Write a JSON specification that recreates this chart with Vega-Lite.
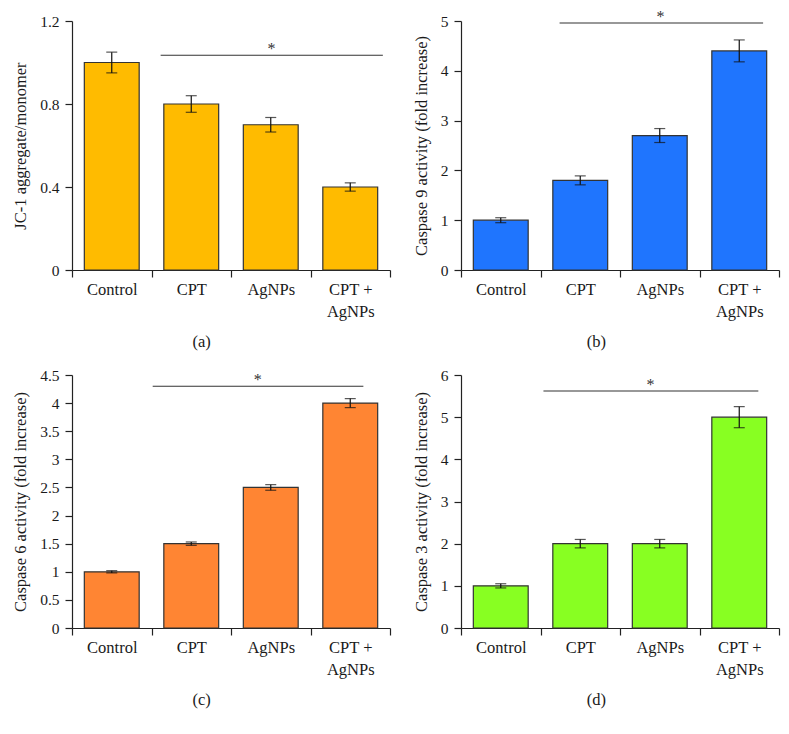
{
  "$schema": "https://vega.github.io/schema/vega-lite/v6.json",
  "padding": {"left": 12, "top": 8, "right": 5, "bottom": 5},
  "background": "white",
  "columns": 2,
  "spacing": {"row": 18, "column": 22},
  "config": {
    "font": "Liberation Serif",
    "view": {"stroke": null},
    "axis": {
      "labelFont": "Liberation Serif",
      "titleFont": "Liberation Serif",
      "labelFontSize": 16.5,
      "titleFontSize": 16.5,
      "titleFontWeight": "normal",
      "labelColor": "#1a1a1a",
      "titleColor": "#1a1a1a",
      "domainColor": "#222222",
      "tickColor": "#222222",
      "domainWidth": 1.2,
      "tickWidth": 1.2,
      "grid": false,
      "tickSize": 7,
      "labelPadding": 3
    },
    "axisY": {"labelFontSize": 15.5, "labelPadding": 6, "titlePadding": 11},
    "axisX": {"tickBand": "extent", "labelAngle": 0, "labelLineHeight": 22, "labelPadding": 4},
    "title": {"font": "Liberation Serif", "fontSize": 16.5, "fontWeight": "normal", "color": "#1a1a1a", "orient": "bottom", "frame": "bounds", "anchor": "middle", "offset": 14}
  },
  "datasets": {
    "a": [
      {"group": "Control", "mean": 1.0, "err": 0.05},
      {"group": "CPT", "mean": 0.8, "err": 0.04},
      {"group": "AgNPs", "mean": 0.7, "err": 0.035},
      {"group": "CPT + AgNPs", "mean": 0.4, "err": 0.02}
    ],
    "b": [
      {"group": "Control", "mean": 1.0, "err": 0.05},
      {"group": "CPT", "mean": 1.8, "err": 0.09},
      {"group": "AgNPs", "mean": 2.7, "err": 0.14},
      {"group": "CPT + AgNPs", "mean": 4.4, "err": 0.22}
    ],
    "c": [
      {"group": "Control", "mean": 1.0, "err": 0.02},
      {"group": "CPT", "mean": 1.5, "err": 0.03},
      {"group": "AgNPs", "mean": 2.5, "err": 0.05},
      {"group": "CPT + AgNPs", "mean": 4.0, "err": 0.08}
    ],
    "d": [
      {"group": "Control", "mean": 1.0, "err": 0.05},
      {"group": "CPT", "mean": 2.0, "err": 0.1},
      {"group": "AgNPs", "mean": 2.0, "err": 0.1},
      {"group": "CPT + AgNPs", "mean": 5.0, "err": 0.25}
    ],
    "sa": [{"from": "CPT", "to": "CPT + AgNPs", "mid": "AgNPs", "y": 1.035, "label": "*"}],
    "sb": [{"from": "CPT", "to": "CPT + AgNPs", "mid": "AgNPs", "y": 4.96, "label": "*"}],
    "sc": [{"from": "CPT", "to": "CPT + AgNPs", "mid": "AgNPs", "y": 4.3, "label": "*"}],
    "sd": [{"from": "CPT", "to": "CPT + AgNPs", "mid": "AgNPs", "y": 5.62, "label": "*"}]
  },
  "concat": [
    {
      "title": "(a)",
      "width": 318, "height": 249,
      "layer": [
        {
          "data": {"name": "a"},
          "mark": {"type": "bar", "width": {"band": 0.69}, "color": "#FFBB00", "stroke": "#333333", "strokeWidth": 1.2},
          "encoding": {
            "x": {"field": "group", "type": "nominal", "sort": null, "scale": {"domain": ["Control", "CPT", "AgNPs", "CPT + AgNPs"], "paddingInner": 0, "paddingOuter": 0}, "axis": {"title": null, "labelExpr": "datum.value == 'CPT + AgNPs' ? ['CPT +', 'AgNPs'] : datum.value"}},
            "y": {"field": "mean", "type": "quantitative", "title": "JC-1 aggregate/monomer", "scale": {"domain": [0, 1.2]}, "axis": {"values": [0, 0.4, 0.8, 1.2], "format": "~g"}}
          }
        },
        {
          "data": {"name": "a"},
          "mark": {"type": "errorbar", "ticks": true, "size": 11, "thickness": 1.2, "color": "#111111"},
          "encoding": {
            "x": {"field": "group", "type": "nominal", "sort": null},
            "y": {"field": "mean", "type": "quantitative", "title": "JC-1 aggregate/monomer", "axis": {"values": [0, 0.4, 0.8, 1.2], "format": "~g"}},
            "yError": {"field": "err"}
          }
        },
        {
          "data": {"name": "sa"},
          "mark": {"type": "rule", "color": "#333333", "strokeWidth": 1.2},
          "encoding": {
            "x": {"field": "from", "type": "nominal", "sort": null, "bandPosition": 0.115},
            "x2": {"field": "to", "bandPosition": 0.91},
            "y": {"field": "y", "type": "quantitative", "title": "JC-1 aggregate/monomer", "axis": {"values": [0, 0.4, 0.8, 1.2], "format": "~g"}}
          }
        },
        {
          "data": {"name": "sa"},
          "mark": {"type": "text", "baseline": "alphabetic", "dy": -1, "fontSize": 16, "color": "#333333", "font": "Liberation Serif"},
          "encoding": {
            "x": {"field": "mid", "type": "nominal", "sort": null, "bandPosition": 0.51},
            "y": {"field": "y", "type": "quantitative", "title": "JC-1 aggregate/monomer", "axis": {"values": [0, 0.4, 0.8, 1.2], "format": "~g"}},
            "text": {"field": "label"}
          }
        }
      ]
    },
    {
      "title": "(b)",
      "width": 318, "height": 249,
      "layer": [
        {
          "data": {"name": "b"},
          "mark": {"type": "bar", "width": {"band": 0.69}, "color": "#1F75FE", "stroke": "#333333", "strokeWidth": 1.2},
          "encoding": {
            "x": {"field": "group", "type": "nominal", "sort": null, "scale": {"domain": ["Control", "CPT", "AgNPs", "CPT + AgNPs"], "paddingInner": 0, "paddingOuter": 0}, "axis": {"title": null, "labelExpr": "datum.value == 'CPT + AgNPs' ? ['CPT +', 'AgNPs'] : datum.value"}},
            "y": {"field": "mean", "type": "quantitative", "title": "Caspase 9 activity (fold increase)", "scale": {"domain": [0, 5]}, "axis": {"values": [0, 1, 2, 3, 4, 5], "format": "~g"}}
          }
        },
        {
          "data": {"name": "b"},
          "mark": {"type": "errorbar", "ticks": true, "size": 11, "thickness": 1.2, "color": "#111111"},
          "encoding": {
            "x": {"field": "group", "type": "nominal", "sort": null},
            "y": {"field": "mean", "type": "quantitative", "title": "Caspase 9 activity (fold increase)", "axis": {"values": [0, 1, 2, 3, 4, 5], "format": "~g"}},
            "yError": {"field": "err"}
          }
        },
        {
          "data": {"name": "sb"},
          "mark": {"type": "rule", "color": "#333333", "strokeWidth": 1.2},
          "encoding": {
            "x": {"field": "from", "type": "nominal", "sort": null, "bandPosition": 0.24},
            "x2": {"field": "to", "bandPosition": 0.8},
            "y": {"field": "y", "type": "quantitative", "title": "Caspase 9 activity (fold increase)", "axis": {"values": [0, 1, 2, 3, 4, 5], "format": "~g"}}
          }
        },
        {
          "data": {"name": "sb"},
          "mark": {"type": "text", "baseline": "alphabetic", "dy": -1, "fontSize": 16, "color": "#333333", "font": "Liberation Serif"},
          "encoding": {
            "x": {"field": "mid", "type": "nominal", "sort": null, "bandPosition": 0.51},
            "y": {"field": "y", "type": "quantitative", "title": "Caspase 9 activity (fold increase)", "axis": {"values": [0, 1, 2, 3, 4, 5], "format": "~g"}},
            "text": {"field": "label"}
          }
        }
      ]
    },
    {
      "title": "(c)",
      "width": 318, "height": 253,
      "layer": [
        {
          "data": {"name": "c"},
          "mark": {"type": "bar", "width": {"band": 0.69}, "color": "#FF8533", "stroke": "#333333", "strokeWidth": 1.2},
          "encoding": {
            "x": {"field": "group", "type": "nominal", "sort": null, "scale": {"domain": ["Control", "CPT", "AgNPs", "CPT + AgNPs"], "paddingInner": 0, "paddingOuter": 0}, "axis": {"title": null, "labelExpr": "datum.value == 'CPT + AgNPs' ? ['CPT +', 'AgNPs'] : datum.value"}},
            "y": {"field": "mean", "type": "quantitative", "title": "Caspase 6 activity (fold increase)", "scale": {"domain": [0, 4.5]}, "axis": {"values": [0, 0.5, 1, 1.5, 2, 2.5, 3, 3.5, 4, 4.5], "format": "~g", "labelOverlap": false}}
          }
        },
        {
          "data": {"name": "c"},
          "mark": {"type": "errorbar", "ticks": true, "size": 11, "thickness": 1.2, "color": "#111111"},
          "encoding": {
            "x": {"field": "group", "type": "nominal", "sort": null},
            "y": {"field": "mean", "type": "quantitative", "title": "Caspase 6 activity (fold increase)", "axis": {"values": [0, 0.5, 1, 1.5, 2, 2.5, 3, 3.5, 4, 4.5], "format": "~g", "labelOverlap": false}},
            "yError": {"field": "err"}
          }
        },
        {
          "data": {"name": "sc"},
          "mark": {"type": "rule", "color": "#333333", "strokeWidth": 1.2},
          "encoding": {
            "x": {"field": "from", "type": "nominal", "sort": null, "bandPosition": 0.015},
            "x2": {"field": "to", "bandPosition": 0.665},
            "y": {"field": "y", "type": "quantitative", "title": "Caspase 6 activity (fold increase)", "axis": {"values": [0, 0.5, 1, 1.5, 2, 2.5, 3, 3.5, 4, 4.5], "format": "~g", "labelOverlap": false}}
          }
        },
        {
          "data": {"name": "sc"},
          "mark": {"type": "text", "baseline": "alphabetic", "dy": -1, "fontSize": 16, "color": "#333333", "font": "Liberation Serif"},
          "encoding": {
            "x": {"field": "mid", "type": "nominal", "sort": null, "bandPosition": 0.335},
            "y": {"field": "y", "type": "quantitative", "title": "Caspase 6 activity (fold increase)", "axis": {"values": [0, 0.5, 1, 1.5, 2, 2.5, 3, 3.5, 4, 4.5], "format": "~g", "labelOverlap": false}},
            "text": {"field": "label"}
          }
        }
      ]
    },
    {
      "title": "(d)",
      "width": 318, "height": 253,
      "layer": [
        {
          "data": {"name": "d"},
          "mark": {"type": "bar", "width": {"band": 0.69}, "color": "#88FF22", "stroke": "#333333", "strokeWidth": 1.2},
          "encoding": {
            "x": {"field": "group", "type": "nominal", "sort": null, "scale": {"domain": ["Control", "CPT", "AgNPs", "CPT + AgNPs"], "paddingInner": 0, "paddingOuter": 0}, "axis": {"title": null, "labelExpr": "datum.value == 'CPT + AgNPs' ? ['CPT +', 'AgNPs'] : datum.value"}},
            "y": {"field": "mean", "type": "quantitative", "title": "Caspase 3 activity (fold increase)", "scale": {"domain": [0, 6]}, "axis": {"values": [0, 1, 2, 3, 4, 5, 6], "format": "~g"}}
          }
        },
        {
          "data": {"name": "d"},
          "mark": {"type": "errorbar", "ticks": true, "size": 11, "thickness": 1.2, "color": "#111111"},
          "encoding": {
            "x": {"field": "group", "type": "nominal", "sort": null},
            "y": {"field": "mean", "type": "quantitative", "title": "Caspase 3 activity (fold increase)", "axis": {"values": [0, 1, 2, 3, 4, 5, 6], "format": "~g"}},
            "yError": {"field": "err"}
          }
        },
        {
          "data": {"name": "sd"},
          "mark": {"type": "rule", "color": "#333333", "strokeWidth": 1.2},
          "encoding": {
            "x": {"field": "from", "type": "nominal", "sort": null, "bandPosition": 0.037},
            "x2": {"field": "to", "bandPosition": 0.74},
            "y": {"field": "y", "type": "quantitative", "title": "Caspase 3 activity (fold increase)", "axis": {"values": [0, 1, 2, 3, 4, 5, 6], "format": "~g"}}
          }
        },
        {
          "data": {"name": "sd"},
          "mark": {"type": "text", "baseline": "alphabetic", "dy": -1, "fontSize": 16, "color": "#333333", "font": "Liberation Serif"},
          "encoding": {
            "x": {"field": "mid", "type": "nominal", "sort": null, "bandPosition": 0.384},
            "y": {"field": "y", "type": "quantitative", "title": "Caspase 3 activity (fold increase)", "axis": {"values": [0, 1, 2, 3, 4, 5, 6], "format": "~g"}},
            "text": {"field": "label"}
          }
        }
      ]
    }
  ]
}
